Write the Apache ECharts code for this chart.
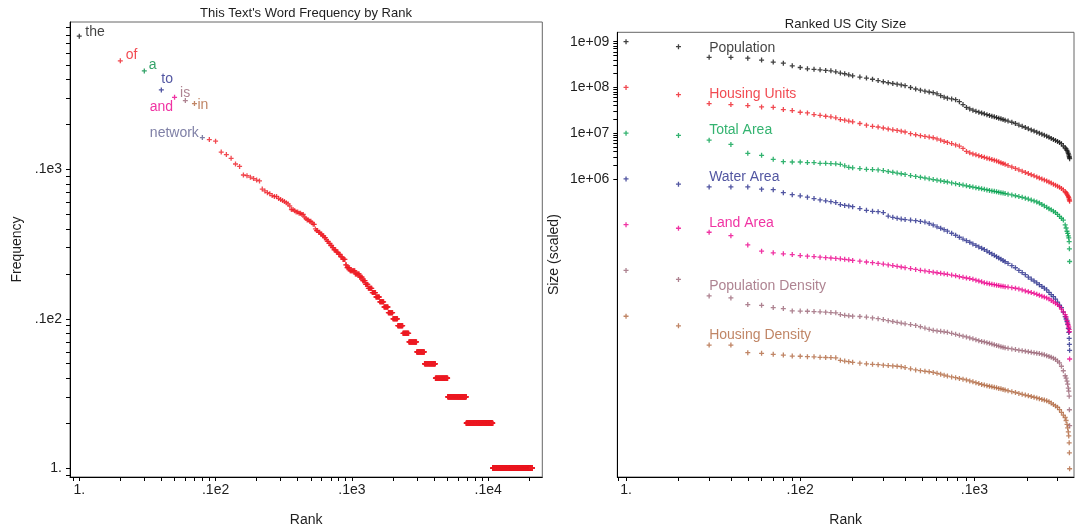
<!DOCTYPE html>
<html><head><meta charset="utf-8">
<script src="https://cdn.jsdelivr.net/npm/echarts@6/dist/echarts.min.js"></script>
<style>html,body{margin:0;padding:0;background:#fff}#c{width:1075px;height:532px}</style>
</head><body><div id="c"></div>
<script>
// ---------------- DATA ----------------
// Left panel: word frequency by rank
const labeledWords = ['the', 'of', 'a', 'to', 'and', 'is', 'in', 'network'];
const labeledWordFreqs = [784, 536, 458, 342, 305, 290, 277, 164];
// Remaining words from rank 9 on, as [frequency, number of words with that frequency]
const otherWordRuns = [
  [159,1],[155,1],[131,1],[126,1],[119,1],[109,1],[105,1],[92,1],[91,1],[89,1],[87,1],[85,1],[84,1],
  [74,1],[72,1],[70,1],[69,1],[67,1],[66,2],[64,1],[63,1],[62,1],[61,1],[60,1],[59,1],[57,1],
  [54,2],[53,1],[52,2],[51,2],[50,2],[48,1],[47,1],[46,2],[45,2],[44,1],[43,2],
  [40,1],[39,2],[38,2],[37,2],[36,2],[35,2],[34,1],[33,2],[32,2],[31,2],[30,2],
  [29,3],[28,3],[27,3],[26,3],[25,4],[23,2],[22,5],[21,9],[20,8],[19,6],[18,6],[17,6],
  [16,9],[15,9],[14,10],[13,12],[12,13],[11,15],[10,17],[9,20],[8,25],[7,37],[6,42],
  [5,69],[4,95],[3,185],[2,390],[1,1021]
];
const rankTickValues = [1, 10, 100, 1000];
const rankTickLabels = ['1.', '.1e2', '.1e3', '.1e4'];
const freqTickValues = [1, 10, 100];
const freqTickLabels = ['1.', '.1e2', '.1e3'];

// Right panel: ranked US city size (scaled), values given as log10 of the scaled size
const cityRanks = [1,2,3,4,5,6,7,8,9,10,11,12,13,14,15,16,17,18,19,20,
  22,24,26,28,30,32,34,36,38,40, 43,46,49,52,55,58,61,64,67,70,
  74,78,82,86,90,94,98,102,106,110,114,118,122,126,130,134,138,142,146,150,
  156,164,172,180,188,196,204,212,220,228,236,244,252,260,268,276,284,292,300,308,316,324,332,
  336,340,343,346,348,350,351,352];
const populationLog10 = [9.000,8.891,8.657,8.657,8.639,8.598,8.554,8.530,8.472,8.435,8.407,8.396,8.385,8.370,8.363,8.341,8.313,8.298,8.276,8.254,
  8.226,8.204,8.178,8.150,8.124,8.102,8.085,8.070,8.054,8.037,
  7.998,7.965,7.939,7.917,7.900,7.885,7.859,7.820,7.787,7.765,
  7.748,7.733,7.689,7.624,7.563,7.530,7.502,7.478,7.459,7.441,7.422,7.404,7.387,7.372,7.357,7.341,7.326,7.313,7.298,7.285,
  7.265,7.239,7.211,7.178,7.150,7.124,7.096,7.072,7.048,7.022,7.000,6.978,6.957,6.935,6.911,6.885,6.863,6.841,6.820,6.798,6.770,6.720,6.678,
  6.657,6.624,6.591,6.559,6.526,6.493,6.472,6.443];
const housingUnitsLog10 = [8.000,7.841,7.646,7.624,7.602,7.574,7.565,7.515,7.493,7.457,7.443,7.407,7.391,7.370,7.357,7.335,7.298,7.283,7.265,7.248,
  7.211,7.174,7.150,7.135,7.113,7.091,7.074,7.059,7.043,7.026,
  6.989,6.965,6.946,6.928,6.915,6.900,6.874,6.846,6.820,6.798,
  6.772,6.743,6.717,6.667,6.602,6.570,6.546,6.526,6.509,6.489,6.472,6.454,6.439,6.424,6.409,6.393,6.374,6.354,6.337,6.320,
  6.293,6.261,6.230,6.200,6.170,6.143,6.117,6.091,6.067,6.043,6.020,5.998,5.978,5.957,5.933,5.909,5.885,5.863,5.841,5.820,5.793,5.759,5.722,
  5.698,5.667,5.639,5.613,5.591,5.559,5.537,5.515];
const totalAreaLog10 = [7.000,6.950,6.848,6.754,6.559,6.515,6.428,6.378,6.370,6.370,6.357,6.357,6.341,6.341,6.335,6.330,6.320,6.287,6.254,6.243,
  6.226,6.211,6.204,6.198,6.183,6.163,6.146,6.128,6.113,6.098,
  6.074,6.054,6.037,6.020,6.002,5.987,5.972,5.959,5.946,5.933,
  5.913,5.896,5.880,5.865,5.850,5.835,5.822,5.809,5.796,5.785,5.772,5.761,5.750,5.739,5.730,5.720,5.709,5.700,5.691,5.680,
  5.667,5.650,5.633,5.615,5.598,5.580,5.561,5.539,5.520,5.498,5.474,5.441,5.411,5.380,5.350,5.324,5.296,5.267,5.224,5.183,5.141,5.102,4.996,
  4.928,4.857,4.809,4.754,4.711,4.630,4.472,4.196];
const waterAreaLog10 = [6.000,5.885,5.826,5.826,5.826,5.776,5.765,5.700,5.657,5.630,5.602,5.570,5.541,5.522,5.504,5.483,5.439,5.422,5.411,5.393,
  5.352,5.315,5.293,5.285,5.265,5.189,5.161,5.139,5.124,5.113,
  5.102,5.087,5.072,5.057,5.026,4.993,4.954,4.922,4.891,4.859,
  4.813,4.770,4.726,4.687,4.652,4.617,4.580,4.548,4.515,4.485,4.457,4.424,4.391,4.361,4.330,4.302,4.272,4.246,4.220,4.191,
  4.154,4.104,4.059,4.002,3.954,3.907,3.854,3.811,3.770,3.728,3.689,3.650,3.613,3.578,3.520,3.472,3.428,3.374,3.309,3.243,3.189,3.091,2.993,
  2.939,2.885,2.820,2.733,2.646,2.515,2.385,2.254];
const landAreaLog10 = [5.000,4.922,4.835,4.761,4.559,4.422,4.385,4.363,4.348,4.326,4.313,4.304,4.291,4.280,4.272,4.263,4.254,4.243,4.233,4.220,
  4.202,4.185,4.170,4.154,4.139,4.122,4.107,4.091,4.076,4.061,
  4.041,4.022,4.004,3.991,3.976,3.963,3.950,3.937,3.926,3.915,
  3.900,3.885,3.865,3.850,3.835,3.822,3.807,3.787,3.770,3.752,3.730,3.720,3.709,3.698,3.689,3.678,3.670,3.661,3.654,3.646,
  3.637,3.624,3.611,3.596,3.574,3.554,3.535,3.517,3.500,3.478,3.459,3.439,3.420,3.400,3.378,3.346,3.315,3.285,3.257,3.217,3.157,3.096,3.035,
  2.983,2.911,2.852,2.804,2.765,2.711,2.661,2.065];
const populationDensityLog10 = [4.000,3.804,3.443,3.400,3.254,3.239,3.189,3.167,3.117,3.113,3.109,3.102,3.096,3.089,3.080,3.074,3.037,3.020,3.009,3.002,
  2.994,2.981,2.963,2.946,2.926,2.904,2.885,2.867,2.850,2.835,
  2.817,2.800,2.770,2.741,2.713,2.691,2.680,2.670,2.659,2.648,
  2.626,2.604,2.583,2.565,2.548,2.526,2.507,2.487,2.467,2.450,2.439,2.422,2.407,2.391,2.376,2.363,2.348,2.335,2.320,2.309,
  2.298,2.285,2.272,2.259,2.248,2.237,2.224,2.211,2.202,2.193,2.183,2.172,2.157,2.139,2.122,2.102,2.083,2.059,2.020,1.983,1.907,1.809,1.700,
  1.646,1.580,1.515,1.428,1.363,1.254,0.957,0.609];
const housingDensityLog10 = [3.000,2.791,2.370,2.370,2.204,2.189,2.167,2.152,2.130,2.126,2.117,2.113,2.102,2.098,2.096,2.091,2.037,2.020,2.007,1.993,
  1.974,1.961,1.950,1.941,1.930,1.922,1.915,1.907,1.898,1.878,
  1.850,1.826,1.811,1.798,1.787,1.772,1.752,1.733,1.711,1.693,
  1.674,1.657,1.639,1.624,1.609,1.587,1.567,1.548,1.528,1.511,1.496,1.483,1.470,1.457,1.446,1.435,1.422,1.413,1.400,1.389,
  1.372,1.352,1.333,1.313,1.293,1.278,1.263,1.246,1.230,1.215,1.198,1.183,1.167,1.152,1.133,1.102,1.070,1.041,1.011,0.961,0.900,0.841,0.787,
  0.722,0.635,0.559,0.472,0.385,0.233,0.015,-0.333];
const citySeriesNames = ['Population', 'Housing Units', 'Total Area', 'Water Area', 'Land Area', 'Population Density', 'Housing Density'];
const citySeriesLog10 = [populationLog10, housingUnitsLog10, totalAreaLog10, waterAreaLog10, landAreaLog10, populationDensityLog10, housingDensityLog10];
const sizeTickValues = [1e6, 1e7, 1e8, 1e9];
const sizeTickLabels = ['1e+06', '1e+07', '1e+08', '1e+09'];
const cityRankTickValues = [1, 10, 100];
const cityRankTickLabels = ['1.', '.1e2', '.1e3'];

// ---------------- STYLE ----------------
const FONT = '"Liberation Sans", Arial, Helvetica, sans-serif';
const TEXT = '#1e1e1e';
const wordColors = ['#111111', '#ed1c24', '#008c44', '#262a8a', '#ec008c', '#9a6475', '#b0673f', '#5f6090'];
// label offsets (px from point centre) and alignment for each labelled word
const wordLabelLayout = [
  {dx: 6, dy: -4, align: 'left'},
  {dx: 5.5, dy: -5.5, align: 'left'},
  {dx: 4.5, dy: -5.5, align: 'left'},
  {dx: 0, dy: -10.5, align: 'left'},
  {dx: -1.5, dy: 9.7, align: 'right'},
  {dx: -5.3, dy: -7.7, align: 'left'},
  {dx: 3, dy: 2, align: 'left'},
  {dx: -3.5, dy: -4.4, align: 'right'}
];
const cityColors = ['#111111', '#ed1c24', '#00a04c', '#262a8a', '#ec008c', '#9a6475', '#b0673f'];
const PLUS = 'path://M1.85,0H3.15V1.85H5V3.15H3.15V5H1.85V3.15H0V1.85H1.85Z';
const SYM = 5;

function logTicks(lo, hi) {
  const out = [];
  for (let d = -2; d <= 10; d++) for (let k = 1; k <= 9; k++) {
    const v = k * Math.pow(10, d);
    if (v >= lo * 0.999999 && v <= hi * 1.000001) out.push(v);
  }
  return out;
}
function fmt(values, labels) {
  return function (v) {
    for (let i = 0; i < values.length; i++) if (Math.abs(Math.log10(v) - Math.log10(values[i])) < 1e-6) return labels[i];
    return '';
  };
}

// ---------------- BUILD SERIES DATA ----------------
const labeledData = labeledWords.map((w, i) => {
  const L = wordLabelLayout[i];
  return {
    name: w, value: [i + 1, labeledWordFreqs[i]],
    itemStyle: {color: wordColors[i]},
    label: {show: true, formatter: w, color: wordColors[i], position: [L.dx + SYM / 2, L.dy + SYM / 2],
      align: L.align, verticalAlign: 'middle', fontSize: 14, fontFamily: FONT}
  };
});
const otherWordData = [];
let rank = labeledWords.length + 1;
otherWordRuns.forEach(([f, n]) => { for (let j = 0; j < n; j++) otherWordData.push([rank++, f]); });

const citySeries = citySeriesNames.map((name, s) => ({
  type: 'scatter', xAxisIndex: 1, yAxisIndex: 1, name,
  symbol: PLUS, symbolSize: SYM, itemStyle: {color: cityColors[s]},
  data: cityRanks.map((r, i) => {
    const item = {value: [r, Math.pow(10, citySeriesLog10[s][i])]};
    if (i === 2) item.label = {show: true, formatter: name, color: cityColors[s], position: [SYM / 2, -7],
      align: 'left', verticalAlign: 'middle', fontSize: 14, fontFamily: FONT};
    return item;
  })
}));

function axisCommon() {
  return {
    axisLine: {show: true, onZero: false, lineStyle: {color: '#000', width: 1}},
    splitLine: {show: false}, minorTick: {show: false},
    nameLocation: 'middle',
    nameTextStyle: {fontSize: 14, color: TEXT, fontFamily: FONT}
  };
}

const chart = echarts.init(document.getElementById('c'), null, {renderer: 'canvas'});
chart.setOption({
  animation: false,
  backgroundColor: '#fff',
  title: [
    {text: "This Text's Word Frequency by Rank", left: 306, top: 7, textAlign: 'center', padding: 0,
      textStyle: {fontSize: 13, fontWeight: 'normal', color: TEXT, fontFamily: FONT}},
    {text: 'Ranked US City Size', left: 845.5, top: 18, textAlign: 'center', padding: 0,
      textStyle: {fontSize: 13, fontWeight: 'normal', color: TEXT, fontFamily: FONT}}
  ],
  grid: [
    {left: 70, right: 532.7, top: 22, bottom: 53.7, show: true, borderColor: '#666', borderWidth: 1},
    {left: 617.3, right: 1, top: 32.3, bottom: 52.7, show: true, borderColor: '#666', borderWidth: 1}
  ],
  xAxis: [
    Object.assign(axisCommon(), {type: 'log', gridIndex: 0, min: 0.855, max: 2494, name: 'Rank', nameGap: 36,
      axisTick: {show: true, inside: false, length: 4, customValues: logTicks(0.855, 2494), lineStyle: {color: '#000'}},
      axisLabel: {customValues: rankTickValues, formatter: fmt(rankTickValues, rankTickLabels), margin: 6,
        fontSize: 14, color: TEXT, fontFamily: FONT}}),
    Object.assign(axisCommon(), {type: 'log', gridIndex: 1, min: 0.891, max: 373, name: 'Rank', nameGap: 36,
      axisTick: {show: true, inside: false, length: 4, customValues: logTicks(0.891, 373), lineStyle: {color: '#000'}},
      axisLabel: {customValues: cityRankTickValues, formatter: fmt(cityRankTickValues, cityRankTickLabels), margin: 6,
        fontSize: 14, color: TEXT, fontFamily: FONT}})
  ],
  yAxis: [
    Object.assign(axisCommon(), {type: 'log', gridIndex: 0, min: 0.871, max: 975, name: 'Frequency', nameGap: 46,
      axisTick: {show: true, inside: false, length: 4, customValues: logTicks(0.871, 975), lineStyle: {color: '#000'}},
      axisLabel: {customValues: freqTickValues, formatter: fmt(freqTickValues, freqTickLabels), margin: 8,
        fontSize: 14, color: TEXT, fontFamily: FONT}}),
    Object.assign(axisCommon(), {type: 'log', gridIndex: 1, min: 0.307, max: 1.6e9, name: 'Size (scaled)', nameGap: 56,
      axisTick: {show: true, inside: false, length: 4, customValues: logTicks(1e6, 1.6e9), lineStyle: {color: '#000'}},
      axisLabel: {customValues: sizeTickValues, formatter: fmt(sizeTickValues, sizeTickLabels), margin: 8,
        fontSize: 14, color: TEXT, fontFamily: FONT}})
  ],
  series: [
    {type: 'scatter', xAxisIndex: 0, yAxisIndex: 0, name: 'words', symbol: PLUS, symbolSize: SYM,
      itemStyle: {color: '#ed1c24'}, data: otherWordData},
    {type: 'scatter', xAxisIndex: 0, yAxisIndex: 0, name: 'labelled words', symbol: PLUS, symbolSize: SYM,
      data: labeledData, z: 3}
  ].concat(citySeries)
});
</script></body></html>
